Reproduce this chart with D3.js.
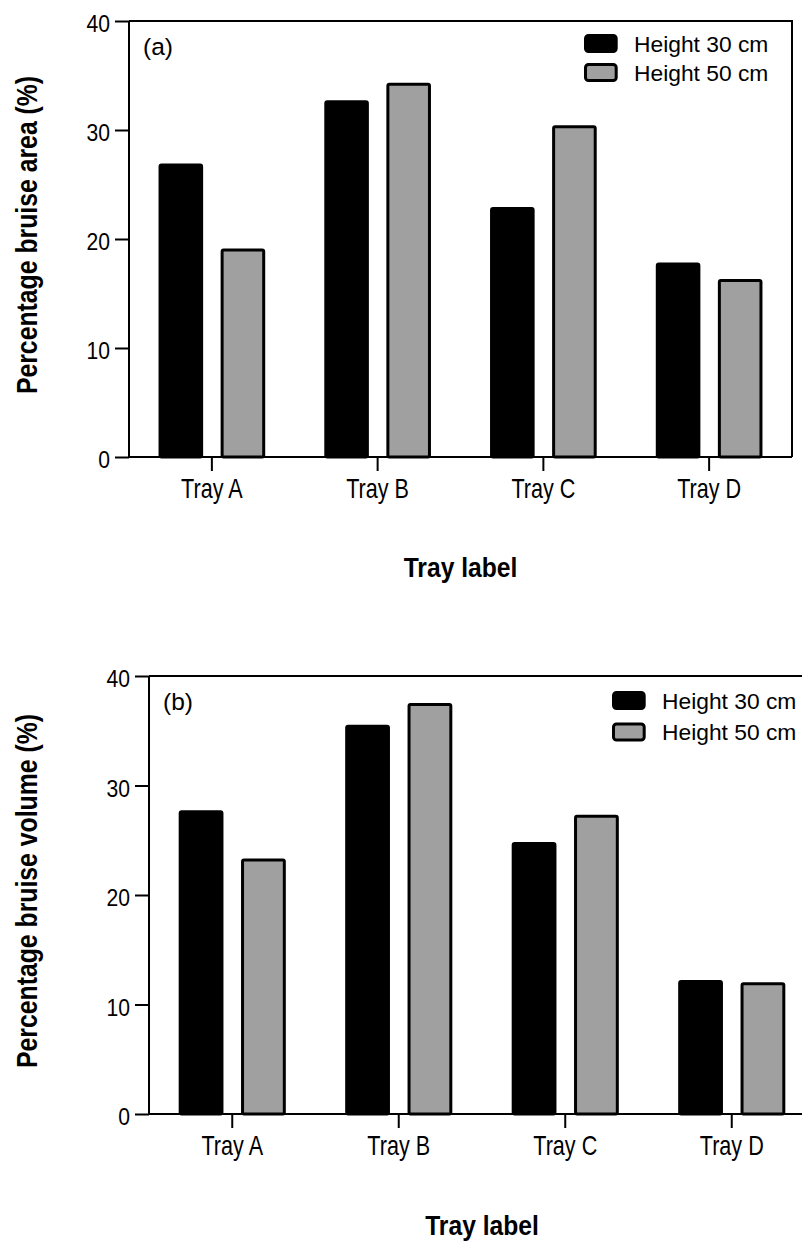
<!DOCTYPE html>
<html>
<head>
<meta charset="utf-8">
<script src="https://cdn.jsdelivr.net/npm/d3@7"></script>
<style>
  html, body { margin: 0; padding: 0; background: #fff; }
  svg { display: block; }
</style>
</head>
<body>
<svg id="chart" width="802" height="1241"></svg>
<script>
// ---------------- data ----------------
const categories = ["Tray A", "Tray B", "Tray C", "Tray D"];
const series = ["Height 30 cm", "Height 50 cm"];
const areaH30 = [26.8, 32.6, 22.8, 17.7];
const areaH50 = [19.0, 34.2, 30.3, 16.2];
const volumeH30 = [27.6, 35.4, 24.7, 12.1];
const volumeH50 = [23.2, 37.4, 27.2, 11.9];
const yTicks = [0, 10, 20, 30, 40];
const panelLabels = ["(a)", "(b)"];
const yTitles = ["Percentage bruise area (%)", "Percentage bruise volume (%)"];
const xTitle = "Tray label";

// ---------------- styles ----------------
const colors = ["#000000", "#a0a0a0"];
const font = "'Liberation Sans', Arial, sans-serif";

// horizontal condensing of text (reference uses a narrow face)
function condense(sel, k) {
  sel.each(function () {
    const t = d3.select(this);
    const x = +t.attr("x") || 0;
    t.attr("x", x / k).attr("transform", `scale(${k},1)`);
  });
}

const svg = d3.select("#chart");

const panels = [
  { values: [areaH30, areaH50], left: 129, right: 792, top: 21, bottom: 457,
    label: panelLabels[0], yTitle: yTitles[0],
    legendX: 455, legendY: 13, legendStep: 29, titleY: 577, yTitleX: 37 },
  { values: [volumeH30, volumeH50], left: 149, right: 815, top: 676, bottom: 1114,
    label: panelLabels[1], yTitle: yTitles[1],
    legendX: 463, legendY: 15, legendStep: 31.5, titleY: 1235, yTitleX: 37 }
];

panels.forEach(p => {
  const g = svg.append("g");
  const x0 = d3.scaleBand().domain(categories).range([p.left, p.right]).paddingInner(0).paddingOuter(0);
  const x1 = d3.scaleBand().domain(series).range([0, x0.bandwidth()]).paddingInner(0.33).paddingOuter(0.5);
  const y = d3.scaleLinear().domain([0, 40]).range([p.bottom, p.top]);

  const rows = categories.map((c, i) => ({ cat: c, vals: series.map((s, j) => ({ s, j, v: p.values[j][i] })) }));

  // bars
  g.selectAll("g.cat").data(rows).join("g")
    .attr("class", "cat")
    .attr("transform", d => `translate(${x0(d.cat)},0)`)
    .selectAll("rect").data(d => d.vals).join("rect")
      .attr("x", d => x1(d.s))
      .attr("y", d => y(d.v))
      .attr("width", x1.bandwidth())
      .attr("height", d => y(0) - y(d.v))
      .attr("rx", 1.5)
      .attr("fill", d => colors[d.j])
      .attr("stroke", "#000")
      .attr("stroke-width", 3);

  // frame (top + right)
  g.append("path")
    .attr("d", `M${p.left},${p.top}H${p.right}V${p.bottom}`)
    .attr("fill", "none").attr("stroke", "#000").attr("stroke-width", 2);

  // y axis
  const ya = g.append("g").attr("transform", `translate(${p.left},0)`)
    .call(d3.axisLeft(y).tickValues(yTicks).tickSize(14).tickPadding(5).tickFormat(d3.format("d")));
  ya.select(".domain").attr("stroke-width", 2).attr("d", `M0,${p.top}V${p.bottom}`);
  ya.selectAll(".tick line").attr("stroke-width", 2);
  ya.selectAll(".tick text").attr("font-family", font).attr("font-size", 24).attr("fill", "#000").attr("dy", "0.44em");
  condense(ya.selectAll(".tick text"), 0.88);

  // x axis
  const xa = g.append("g").attr("transform", `translate(0,${p.bottom})`)
    .call(d3.axisBottom(x0).tickSize(14).tickPadding(8));
  xa.select(".domain").attr("stroke-width", 2).attr("d", `M${p.left},0H${p.right}`);
  xa.selectAll(".tick line").attr("stroke-width", 2);
  xa.selectAll(".tick text").attr("font-family", font).attr("font-size", 27).attr("fill", "#000");
  condense(xa.selectAll(".tick text"), 0.8);

  // panel label
  g.append("text").attr("x", p.left + 14).attr("y", p.top + 34)
    .attr("font-family", font).attr("font-size", 24.5).text(p.label);

  // y title
  g.append("text")
    .attr("transform", `translate(${p.yTitleX},${(p.top + p.bottom) / 2 - 4}) rotate(-90) scale(0.855,1)`)
    .attr("text-anchor", "middle")
    .attr("font-family", font).attr("font-weight", "bold").attr("font-size", 29)
    .text(p.yTitle);

  // x title
  const xt = g.append("text")
    .attr("x", (p.left + p.right) / 2).attr("y", p.titleY)
    .attr("text-anchor", "middle")
    .attr("font-family", font).attr("font-weight", "bold").attr("font-size", 28)
    .text(xTitle);
  condense(xt, 0.88);

  // legend
  const lg = g.append("g").attr("transform", `translate(${p.left + p.legendX},${p.top + p.legendY})`);
  const li = lg.selectAll("g").data(series).join("g")
    .attr("transform", (d, i) => `translate(0,${i * p.legendStep})`);
  li.append("rect").attr("x", 1.5).attr("y", 1.5).attr("width", 30.7).attr("height", 16).attr("rx", 3)
    .attr("fill", (d, i) => colors[i]).attr("stroke", "#000").attr("stroke-width", 3);
  li.append("text").attr("x", 50).attr("y", 17.5)
    .attr("font-family", font).attr("font-size", 22.8).text(d => d);
});
</script>
</body>
</html>
